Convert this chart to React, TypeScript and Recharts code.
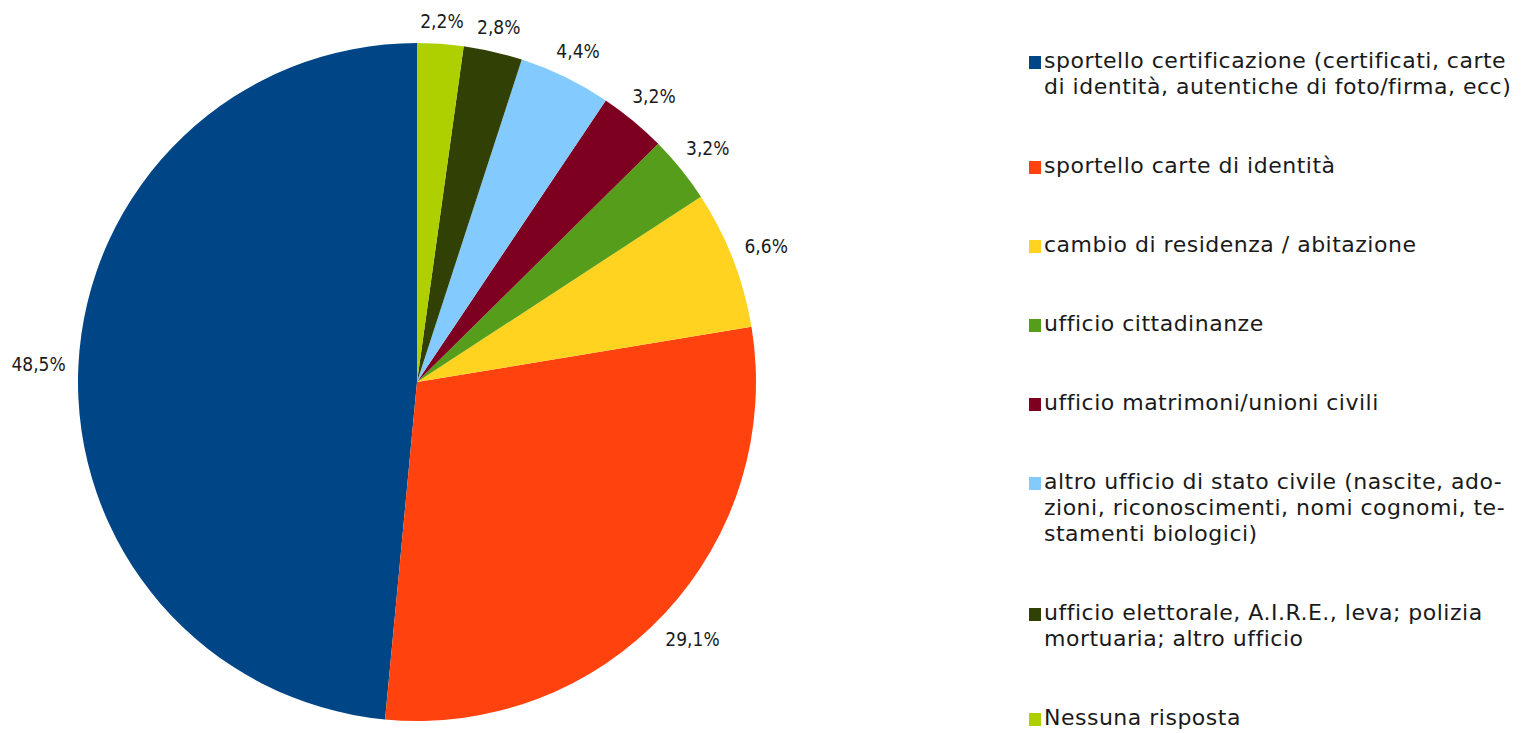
import React from "react";
import { PieChart, Pie, Cell, Legend } from "recharts";

const categories: string[] = [
  "sportello certificazione (certificati, carte\ndi identità, autentiche di foto/firma, ecc)",
  "sportello carte di identità",
  "cambio di residenza / abitazione",
  "ufficio cittadinanze",
  "ufficio matrimoni/unioni civili",
  "altro ufficio di stato civile (nascite, ado-\nzioni, riconoscimenti, nomi cognomi, te-\nstamenti biologici)",
  "ufficio elettorale, A.I.R.E., leva; polizia\nmortuaria; altro ufficio",
  "Nessuna risposta",
];
const values: number[] = [48.5, 29.1, 6.6, 3.2, 3.2, 4.4, 2.8, 2.2];
const colors: string[] = [
  "#004586",
  "#ff420e",
  "#ffd320",
  "#579d1c",
  "#7e0021",
  "#83caff",
  "#314004",
  "#aecf00",
];

const data = categories.map((name, i) => ({ name, value: values[i] }));

const RAD = Math.PI / 180;
const LABEL_FONT = "'DejaVu Sans Condensed', 'DejaVu Sans', sans-serif";
const LEGEND_FONT = "'DejaVu Sans', sans-serif";

const formatPct = (v: number) => v.toFixed(1).replace(".", ",") + "%";

const renderLabel = (props: any) => {
  const { cx, cy, outerRadius, midAngle, value } = props;
  const text = formatPct(value);
  const w = text.length * 10.6;
  const h = 16;
  const c = Math.cos(midAngle * RAD);
  const s = Math.sin(midAngle * RAD);
  const rr = outerRadius + 13 + (w / 2) * Math.abs(c) + (h / 2) * Math.abs(s);
  const x = cx + rr * c;
  const y = cy - rr * s;
  return (
    <text
      x={x}
      y={y}
      textAnchor="middle"
      dominantBaseline="central"
      fontFamily={LABEL_FONT}
      fontSize={19}
      fill="#1a1a1a"
    >
      {text}
    </text>
  );
};

const renderLegend = () => (
  <div style={{ fontFamily: LEGEND_FONT, fontSize: 22, letterSpacing: "0.5px", color: "#1a1a1a" }}>
    {data.map((d, i) => (
      <div
        key={i}
        style={{ position: "relative", paddingLeft: 15, marginBottom: 53, lineHeight: "26px", whiteSpace: "pre" }}
      >
        <span
          style={{
            position: "absolute",
            left: 0,
            top: 8,
            width: 12,
            height: 13,
            background: colors[i],
          }}
        />
        {d.name}
      </div>
    ))}
  </div>
);

export default function App() {
  return (
    <div style={{ position: "absolute", left: 0, top: 0, width: 1534, height: 733, background: "#fff" }}>
      <PieChart width={1534} height={733} margin={{ top: 0, right: 0, bottom: 0, left: 0 }}>
        <Pie
          data={data}
          dataKey="value"
          nameKey="name"
          cx={417}
          cy={382}
          outerRadius={339}
          startAngle={90}
          endAngle={450}
          stroke="none"
          label={renderLabel}
          labelLine={false}
          isAnimationActive={false}
        >
          {data.map((d, i) => (
            <Cell key={i} fill={colors[i]} />
          ))}
        </Pie>
        <Legend
          content={renderLegend}
          layout="vertical"
          wrapperStyle={{ position: "absolute", left: 1029, top: 48, width: 505 }}
        />
      </PieChart>
    </div>
  );
}
